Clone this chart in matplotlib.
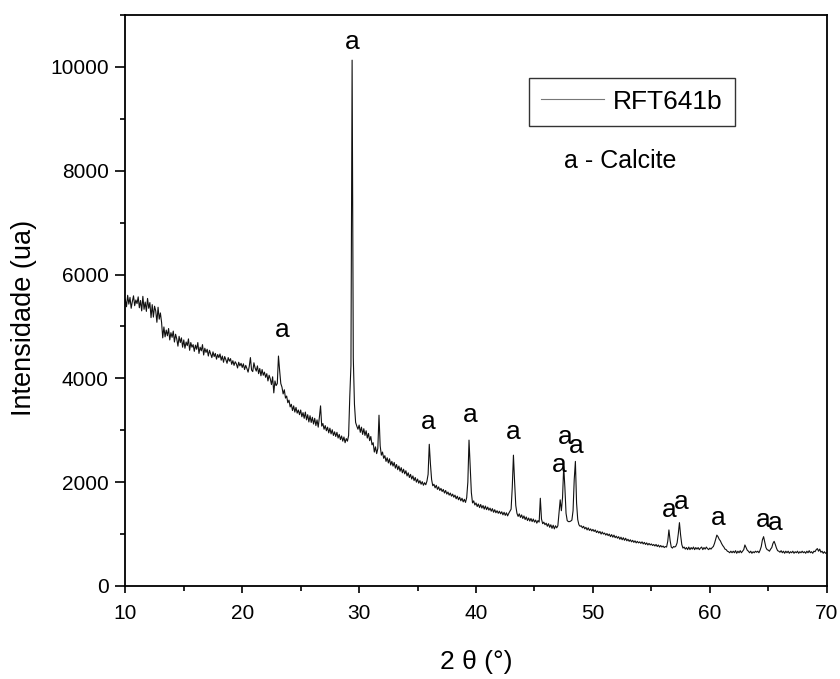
import numpy as np
import matplotlib
matplotlib.use('Agg')
import matplotlib.pyplot as plt
from matplotlib.ticker import MultipleLocator

plt.rcParams['font.family'] = ['Liberation Sans', 'DejaVu Sans']

# 2-theta grid, 0.1 deg step from 10 to 70
two_theta = np.round(np.arange(10, 70.001, 0.1), 1)

# intensity, one row per degree
intensity = [
    5520, 5380, 5600, 5430, 5560, 5350, 5480, 5590, 5400, 5510,   # 10
    5440, 5570, 5360, 5500, 5300, 5580, 5330, 5470, 5290, 5540,   # 11
    5350, 5460, 5170, 5420, 5180, 5390, 5300, 5080, 5370, 5140,   # 12
    5260, 5080, 4780, 4990, 4800, 4930, 4820, 4960, 4740, 4880,   # 13
    4790, 4910, 4700, 4850, 4760, 4620, 4810, 4690, 4780, 4600,   # 14
    4740, 4580, 4700, 4630, 4760, 4540, 4690, 4600, 4650, 4520,   # 15
    4640, 4560, 4690, 4480, 4600, 4530, 4650, 4450, 4580, 4500,   # 16
    4560, 4430, 4540, 4470, 4400, 4510, 4420, 4480, 4370, 4460,   # 17
    4400, 4470, 4350, 4430, 4310, 4420, 4360, 4290, 4400, 4330,   # 18
    4380, 4270, 4340, 4250, 4320, 4280, 4200, 4310, 4240, 4290,   # 19
    4210, 4280, 4170, 4250, 4190, 4120, 4230, 4400, 4160, 4130,   # 20
    4300, 4200, 4140, 4240, 4090, 4190, 4050, 4170, 4060, 4120,   # 21
    4020, 4090, 3950, 4060, 3990, 3880, 4030, 3720, 3950, 3860,   # 22
    3900, 4430, 4150, 3900, 3830, 3700, 3780, 3620, 3660, 3530,   # 23
    3580, 3450, 3500, 3380, 3470, 3350, 3440, 3330, 3390, 3300,   # 24
    3390, 3260, 3340, 3230, 3350, 3200, 3300, 3160, 3280, 3150,   # 25
    3250, 3120, 3230, 3090, 3200, 3060, 3250, 3470, 3080, 3130,   # 26
    3020, 3090, 2990, 3060, 2950, 3040, 2930, 3010, 2900, 2970,   # 27
    2880, 2960, 2850, 2920, 2820, 2890, 2790, 2870, 2760, 2840,   # 28
    2790, 2900, 3650, 4250, 10130, 4400, 3500, 3150, 3080, 3020,  # 29
    3100, 2960, 3060, 2920, 3030, 2900, 2990, 2850, 2940, 2800,   # 30
    2880, 2720, 2760, 2580, 2680, 2550, 2650, 3290, 2700, 2520,   # 31
    2580, 2460, 2510, 2400, 2470, 2370, 2450, 2330, 2400, 2310,   # 32
    2380, 2270, 2340, 2240, 2310, 2210, 2280, 2180, 2250, 2160,   # 33
    2220, 2120, 2180, 2090, 2150, 2060, 2120, 2030, 2090, 2000,   # 34
    2060, 1980, 2030, 1960, 2010, 1940, 1990, 1950, 2020, 2150,   # 35
    2730, 2350, 2050, 1930, 1960, 1890, 1940, 1860, 1910, 1840,   # 36
    1880, 1820, 1860, 1790, 1840, 1770, 1810, 1750, 1790, 1730,   # 37
    1770, 1710, 1750, 1680, 1730, 1660, 1710, 1640, 1690, 1620,   # 38
    1670, 1610, 1700, 2000, 2810, 2300, 1800, 1600, 1640, 1560,   # 39
    1600, 1530, 1580, 1510, 1570, 1500, 1550, 1480, 1540, 1470,   # 40
    1520, 1460, 1500, 1440, 1490, 1420, 1470, 1410, 1450, 1400,   # 41
    1440, 1390, 1430, 1370, 1420, 1360, 1410, 1350, 1400, 1440,   # 42
    1480, 1900, 2520, 2000, 1550, 1400, 1340, 1390, 1320, 1370,   # 43
    1300, 1350, 1280, 1330, 1260, 1310, 1250, 1300, 1240, 1290,   # 44
    1230, 1270, 1210, 1260, 1230, 1690, 1290, 1200, 1230, 1180,   # 45
    1210, 1150, 1200, 1130, 1180, 1110, 1170, 1100, 1160, 1120,   # 46
    1160, 1400, 1660, 1450, 1700, 2300, 1900, 1400, 1260, 1240,   # 47
    1240, 1250, 1270, 1450, 2050, 2400, 1600, 1280, 1180, 1150,   # 48
    1160, 1120, 1150, 1100, 1130, 1080, 1120, 1070, 1100, 1060,   # 49
    1090, 1050, 1080, 1030, 1060, 1020, 1050, 1000, 1040, 1000,   # 50
    1020, 980, 1010, 970, 1000, 950, 990, 940, 980, 930,          # 51
    960, 920, 950, 900, 940, 890, 930, 880, 920, 870,             # 52
    900, 860, 890, 850, 880, 840, 870, 830, 860, 830,             # 53
    850, 820, 850, 810, 840, 800, 830, 790, 820, 790,             # 54
    810, 780, 800, 770, 800, 760, 790, 750, 780, 750,             # 55
    770, 740, 760, 750, 860, 1080, 880, 750, 730, 760,            # 56
    750, 770, 830, 1000, 1220, 980, 800, 730, 750, 710,           # 57
    740, 700, 750, 700, 740, 710, 750, 700, 740, 710,             # 58
    740, 700, 730, 750, 700, 740, 710, 750, 720, 700,             # 59
    730, 710, 740, 760, 820, 900, 980, 950, 900, 870,             # 60
    820, 780, 750, 710, 700, 670, 660, 640, 670, 640,             # 61
    670, 640, 680, 630, 670, 640, 680, 640, 670, 700,             # 62
    790, 740, 690, 670, 640, 670, 630, 660, 640, 670,             # 63
    650, 670, 640, 690, 760, 890, 950, 840, 740, 700,             # 64
    690, 670, 710, 740, 820, 860, 800, 730, 680, 670,             # 65
    650, 680, 640, 670, 630, 670, 640, 670, 630, 660,             # 66
    640, 670, 630, 660, 640, 670, 630, 660, 640, 670,             # 67
    640, 660, 630, 670, 640, 680, 640, 660, 630, 670,             # 68
    660, 700, 720, 670, 710, 650, 670, 630, 660, 630,             # 69
    640,                                                          # 70
]

# calcite peak markers ("a") placed above the peaks
label_x = [29.42, 23.4, 35.9, 39.5, 43.2, 47.1, 47.6, 48.6, 56.5, 57.55, 60.7, 64.6, 65.6]
label_y = [10480, 4930, 3160, 3290, 2970, 2330, 2870, 2700, 1460, 1620, 1310, 1270, 1210]

fig = plt.figure(figsize=(8.4, 6.79), dpi=100)
ax = fig.add_axes([0.1492, 0.1370, 0.8350, 0.8409])

ax.plot(two_theta, intensity, color='#111111', lw=0.8, label='RFT641b')

for x, y in zip(label_x, label_y):
    ax.text(x, y, 'a', fontsize=19, ha='center', va='center')

ax.text(0.705, 0.745, 'a - Calcite', transform=ax.transAxes, fontsize=18,
        ha='center', va='center')

ax.set_xlim(10, 70)
ax.set_ylim(0, 11000)
ax.xaxis.set_major_locator(MultipleLocator(10))
ax.xaxis.set_minor_locator(MultipleLocator(5))
ax.yaxis.set_major_locator(MultipleLocator(2000))
ax.yaxis.set_minor_locator(MultipleLocator(1000))

ax.tick_params(axis='both', which='both', direction='out', labelsize=15,
               top=False, right=False, width=1.2)
ax.tick_params(axis='x', which='major', length=5, pad=8)
ax.tick_params(axis='x', which='minor', length=3.8)
ax.tick_params(axis='y', which='major', length=7, pad=5)
ax.tick_params(axis='y', which='minor', length=3.6)
for s in ax.spines.values():
    s.set_linewidth(1.3)

ax.set_xlabel('2 θ (°)', fontsize=19)
ax.set_ylabel('Intensidade (ua)', fontsize=19.5)
ax.xaxis.set_label_coords(0.5, -0.112)
ax.yaxis.set_label_coords(-0.126, 0.47)

leg = ax.legend(loc='upper right', bbox_to_anchor=(0.869, 0.890), borderaxespad=0,
                fontsize=19, fancybox=False, frameon=True, handlelength=2.4,
                handletextpad=0.35, borderpad=0.45)
leg.get_frame().set_edgecolor('black')
leg.get_frame().set_linewidth(1.0)
leg.get_lines()[0].set_color('#777777')

fig.savefig('out.png', dpi=100)
